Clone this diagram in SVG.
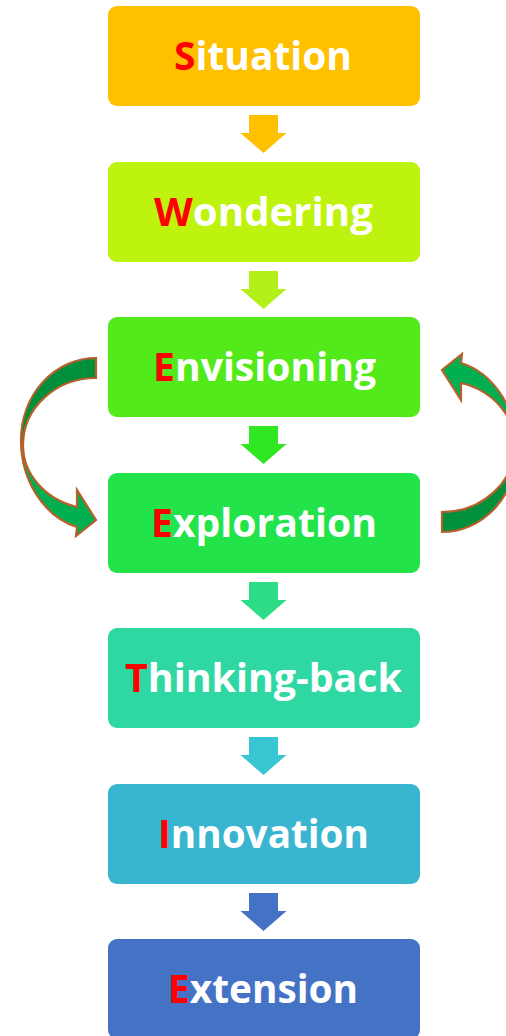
<svg xmlns="http://www.w3.org/2000/svg" width="506" height="1036" viewBox="0 0 506 1036">
  <style>
    .box { stroke: none; }
    .lbl { font-family: "Open Sans", "Noto Sans", "Liberation Sans", sans-serif; font-weight: 700; font-size: 39px; fill: #FFFFFF; text-anchor: middle; }
    .ini { fill: #FF0000; }
    .back { fill: #008F3A; stroke: #B4612C; stroke-width: 2.2; stroke-linejoin: miter; }
    .front { fill: #00B050; stroke: #B4612C; stroke-width: 2.2; stroke-linejoin: miter; }
  </style>
  <defs>
    <!-- block arrow pointing down, origin at top centre of the shaft -->
    <path id="down" d="M-14.5,0 H14.5 V18 H23 L0,38 L-23,18 H-14.5 Z"/>
    <!-- curved loop arrow: tail at top right, head at bottom right -->
    <g id="loop">
      <path class="back" d="M96,358 A75,82 0 0 0 21,440 L23,445 A73,67 0 0 1 96,378 Z"/>
      <path class="front" d="M21,440 A75,90 0 0 0 77,527 L76,536 L96,520 L77,490 L77,507 A73,64 0 0 1 23,445 Z"/>
    </g>
  </defs>

  <!-- connectors -->
  <g id="connectors">
    <use href="#down" x="263.5" y="115" fill="#FFC000"/>
    <use href="#down" x="263.5" y="271" fill="#B3F01A"/>
    <use href="#down" x="263.5" y="426" fill="#30E822"/>
    <use href="#down" x="263.5" y="582" fill="#2DDC86"/>
    <use href="#down" x="263.5" y="737" fill="#39C6D3"/>
    <use href="#down" x="263.5" y="893" fill="#4472C4"/>
    <use href="#loop"/>
    <use href="#loop" transform="rotate(180 269 445)"/>
  </g>

  <g id="situation">
    <rect class="box" x="108" y="6" width="312" height="100" rx="9" fill="#FFC000"/>
    <text class="lbl" x="263" y="70" textLength="178" lengthAdjust="spacingAndGlyphs"><tspan class="ini">S</tspan>ituation</text>
  </g>
  <g id="wondering">
    <rect class="box" x="108" y="162" width="312" height="100" rx="9" fill="#BEF30F"/>
    <text class="lbl" x="263.5" y="226" textLength="219" lengthAdjust="spacingAndGlyphs"><tspan class="ini">W</tspan>ondering</text>
  </g>
  <g id="envisioning">
    <rect class="box" x="108" y="317" width="312" height="100" rx="9" fill="#52EA1A"/>
    <text class="lbl" x="264.5" y="381" textLength="223" lengthAdjust="spacingAndGlyphs"><tspan class="ini">E</tspan>nvisioning</text>
  </g>
  <g id="exploration">
    <rect class="box" x="108" y="473" width="312" height="100" rx="9" fill="#22E34A"/>
    <text class="lbl" x="264" y="537" textLength="226" lengthAdjust="spacingAndGlyphs"><tspan class="ini">E</tspan>xploration</text>
  </g>
  <g id="thinking-back">
    <rect class="box" x="108" y="628" width="312" height="100" rx="9" fill="#2FD8A3"/>
    <text class="lbl" x="263.5" y="692" textLength="277" lengthAdjust="spacingAndGlyphs"><tspan class="ini">T</tspan>hinking-back</text>
  </g>
  <g id="innovation">
    <rect class="box" x="108" y="784" width="312" height="100" rx="9" fill="#3AB5CF"/>
    <text class="lbl" x="263.5" y="848" textLength="211" lengthAdjust="spacingAndGlyphs"><tspan class="ini">I</tspan>nnovation</text>
  </g>
  <g id="extension">
    <rect class="box" x="108" y="939" width="312" height="100" rx="9" fill="#4472C4"/>
    <text class="lbl" x="263" y="1003" textLength="190" lengthAdjust="spacingAndGlyphs"><tspan class="ini">E</tspan>xtension</text>
  </g>
</svg>
